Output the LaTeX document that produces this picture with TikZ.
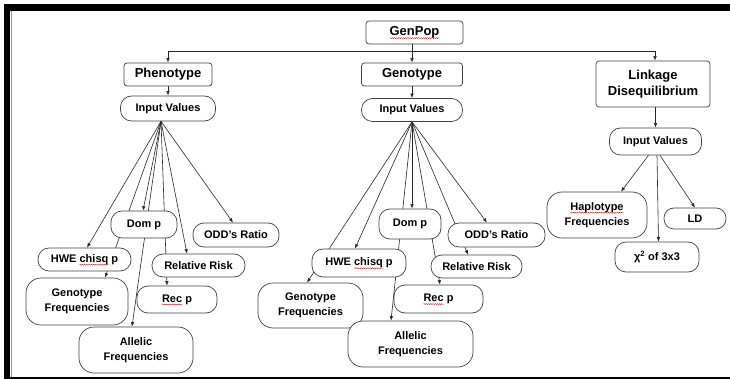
\documentclass[tikz,border=0pt]{standalone}
\usepackage{fontspec}
\setmainfont{Liberation Sans}
\usetikzlibrary{arrows.meta,decorations.pathmorphing,calc}
\pgfdeclarelayer{background}
\pgfsetlayers{background,main}
\newsavebox\squigbox
\newcommand\squig[1]{\sbox\squigbox{#1}\rlap{\tikz[overlay]\draw[sharp corners,red!85!black,line width=0.35pt,decorate,decoration={snake,amplitude=0.5pt,segment length=2.2pt}] (0pt,-2.4pt) -- (\wd\squigbox,-2.4pt);}\usebox\squigbox}
\tikzset{
  topbox/.style={draw=black!75, fill=white, rounded corners=3pt, line width=0.7pt,
    font=\fontsize{13}{16.5}\selectfont\bfseries, align=center, inner sep=0pt},
  pill/.style={draw=black!75, fill=white, rounded corners=11pt, line width=0.7pt,
    font=\fontsize{11}{15}\selectfont\bfseries, align=center, inner sep=0pt},
  pilltwo/.style={pill, rounded corners=15pt},
  conn/.style={line width=0.6pt, draw=black!85, -{Latex[length=4.5pt,width=3.5pt]}},
  plain/.style={line width=0.6pt, draw=black!85},
}
\begin{document}
\begin{tikzpicture}[x=1pt,y=-1pt]
\useasboundingbox (0,0) rectangle (730,379);
% frame
\fill[black] (4,4) rectangle (730,11);
\fill[black] (4,4) rectangle (10,379);
\draw[black!40,line width=0.6pt] (11,11) -- (11,377);
\draw[black,line width=1.6pt] (10,378) -- (730,378);

% top level
\node[topbox, minimum width=97pt, minimum height=23pt] (genpop) at (414.5,32.5) {\squig{GenPop}};
\node[topbox, minimum width=88pt, minimum height=23pt] (pheno) at (168,74.5) {Phenotype};
\node[topbox, minimum width=101pt, minimum height=23pt] (geno) at (412,74.5) {Genotype};
\node[topbox, minimum width=114pt, minimum height=46pt] (link) at (653,84) {Linkage\\Disequilibrium};

% input values
\node[pill, minimum width=95pt, minimum height=25pt] (pin) at (168,108.5) {Input Values};
\node[pill, minimum width=101pt, minimum height=23pt] (gin) at (412,110) {Input Values};
\node[pill, minimum width=92pt, minimum height=27pt] (lin) at (655.5,141.5) {Input Values};

% LD children
\node[pilltwo, minimum width=100pt, minimum height=46pt] (hap) at (597,215) {\squig{Haplotype}\\Frequencies};
\node[pill, rounded corners=10pt, minimum width=62pt, minimum height=21pt] (ld) at (695,218.5) {LD};
\node[pill, minimum width=84pt, minimum height=30pt] (chi) at (657,257) {χ\textsuperscript{2} of 3x3};

% phenotype children
\node[pill, minimum width=66pt, minimum height=27pt] (pdom) at (144,224.5) {Dom p};
\node[pill, minimum width=86pt, minimum height=24pt] (podd) at (236,235) {ODD’s Ratio};
\node[pill, minimum width=93pt, minimum height=23pt] (phwe) at (84.5,259.5) {HWE \squig{chisq} p};
\node[pill, minimum width=93pt, minimum height=23pt] (prr) at (198.5,265.5) {Relative Risk};
\node[pilltwo, minimum width=102pt, minimum height=47pt] (pgf) at (77,301.5) {Genotype\\Frequencies};
\node[pill, minimum width=80pt, minimum height=27pt] (prec) at (177,299.5) {\squig{Rec} p};
\node[pilltwo, minimum width=114pt, minimum height=46pt] (paf) at (136,350) {Allelic\\Frequencies};

% genotype children
\node[pill, minimum width=62pt, minimum height=30pt] (gdom) at (410,224) {Dom p};
\node[pill, minimum width=97pt, minimum height=24pt] (godd) at (496.5,235) {ODD’s Ratio};
\node[pill, minimum width=94pt, minimum height=28pt] (ghwe) at (359,263) {HWE \squig{chisq} p};
\node[pill, minimum width=91pt, minimum height=23pt] (grr) at (476.5,266.5) {Relative Risk};
\node[pilltwo, minimum width=105pt, minimum height=45pt] (ggf) at (310.5,305.5) {Genotype\\Frequencies};
\node[pill, minimum width=89pt, minimum height=28pt] (grec) at (438.5,299) {\squig{Rec} p};
\node[pilltwo, minimum width=125pt, minimum height=46pt] (gaf) at (410.5,344) {Allelic\\Frequencies};

\begin{pgfonlayer}{background}
% top bus
\coordinate (j) at ($([xshift=-2.5pt]genpop.south)+(0,7)$);
\draw[plain] ([xshift=-2.5pt]genpop.south) -- (j);
\draw[conn] (j) -| (pheno.north);
\draw[conn] (j) -- (geno.north);
\draw[conn] (j) -| ([xshift=2pt]link.north);
% to input values
\draw[conn] (pheno.south) -- (pin.north);
\draw[conn] (geno.south) -- (gin.north);
\draw[conn] (link.south -| lin.north) -- (lin.north);

% LD fan
\draw[conn] ([xshift=-7pt]lin.south) -- ([xshift=24pt]hap.north);
\draw[conn] ([xshift=1.5pt]lin.south) -- ([xshift=1.5pt]chi.north);
\draw[conn] ([xshift=4.5pt]lin.south) -- (ld.north);

% phenotype fan
\coordinate (pa) at ([xshift=-7pt]pin.south);
\draw[conn] (pa) -- ([xshift=2.5pt]phwe.north);
\draw[conn] (pa) -- ([xshift=28pt]pgf.north);
\draw[conn] (pa) -- ([xshift=-1pt]pdom.north);
\draw[conn] (pa) -- ([xshift=-4pt]paf.north);
\draw[conn] (pa) -- ([xshift=-10pt]prec.north);
\draw[conn] (pa) -- ([xshift=-11.5pt]prr.north);
\draw[conn] (pa) -- ([xshift=-3pt]podd.north);

% genotype fan
\coordinate (ga) at (gin.south);
\draw[conn] (ga) -- ([xshift=-4pt]ghwe.north);
\draw[conn] (ga) -- ([xshift=-3.5pt]ggf.north);
\draw[conn] (ga) -- ([xshift=2pt]gdom.north);
\draw[conn] (ga) -- ([xshift=-19.5pt]gaf.north);
\draw[conn] (ga) -- ([xshift=1.5pt]grec.north);
\draw[conn] (ga) -- ([xshift=-8.5pt]grr.north);
\draw[conn] (ga) -- ([xshift=-9.5pt]godd.north);
\end{pgfonlayer}
\end{tikzpicture}
\end{document}
